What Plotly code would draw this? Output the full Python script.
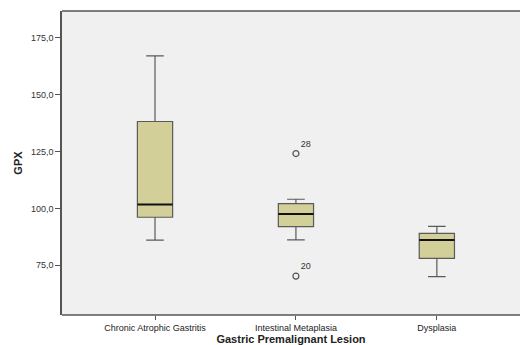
import plotly.graph_objects as go

# Box-plot summary statistics of GPX per lesion group
categories = ["Chronic Atrophic Gastritis", "Intestinal Metaplasia", "Dysplasia"]
lower_whisker = [86.0, 86.1, 70.0]
q1_values = [96.1, 92.0, 78.0]
medians = [101.7, 97.5, 86.1]
q3_values = [138.2, 102.1, 89.0]
upper_whisker = [167.1, 104.0, 92.1]

# Outlying cases (group index, value, case label)
outlier_group = [1, 1]
outlier_values = [124.1, 70.2]
outlier_labels = ["28", "20"]

y_ticks = [75, 100, 125, 150, 175]
y_tick_text = ["75,0", "100,0", "125,0", "150,0", "175,0"]

positions = list(range(len(categories)))
box_width = 0.25
fill = "#d3cf98"
edge = "#5a5a5a"
frame = "#555555"

fig = go.Figure()

fig.add_trace(go.Box(
    x=positions,
    q1=q1_values,
    median=medians,
    q3=q3_values,
    lowerfence=lower_whisker,
    upperfence=upper_whisker,
    width=box_width,
    whiskerwidth=0.5,
    fillcolor=fill,
    line=dict(color=edge, width=1.2),
    boxpoints=False,
    hoverinfo="skip",
    showlegend=False,
))

# Heavier median bars
for pos, med in zip(positions, medians):
    fig.add_trace(go.Scatter(
        x=[pos - box_width / 2, pos + box_width / 2],
        y=[med, med],
        mode="lines",
        line=dict(color="#111111", width=2),
        hoverinfo="skip",
        showlegend=False,
    ))

# Outliers with case numbers
fig.add_trace(go.Scatter(
    x=outlier_group,
    y=outlier_values,
    mode="markers+text",
    marker=dict(symbol="circle-open", size=6, color="#555555", line=dict(width=1.2)),
    text=outlier_labels,
    textposition="top right",
    textfont=dict(family="Arial, Liberation Sans, sans-serif", size=9, color="#333333"),
    hoverinfo="skip",
    showlegend=False,
))

# Frame: top and bottom edges run off the right side of the page
for y in (0, 1):
    fig.add_shape(
        type="line", xref="paper", yref="paper",
        x0=0, x1=1.05, y0=y, y1=y,
        line=dict(color=frame, width=1.5),
    )

fig.update_layout(
    width=520,
    height=345,
    margin=dict(l=62, r=0, t=11, b=30),
    paper_bgcolor="white",
    plot_bgcolor="#f0f0f0",
    font=dict(family="Arial, Liberation Sans, sans-serif", color="#333333"),
    xaxis=dict(
        range=[-0.66, 2.59],
        tickmode="array",
        tickvals=positions,
        ticktext=categories,
        tickfont=dict(size=9, color="#222222"),
        ticks="outside",
        ticklen=4,
        tickcolor=frame,
        showline=False,
        showgrid=False,
        zeroline=False,
        title=dict(
            text="<b>Gastric Premalignant Lesion</b>",
            font=dict(size=11, color="#222222"),
            standoff=4,
        ),
    ),
    yaxis=dict(
        range=[53.1, 186.8],
        tickmode="array",
        tickvals=y_ticks,
        ticktext=y_tick_text,
        tickfont=dict(size=9, color="#333333"),
        ticks="outside",
        ticklen=5,
        tickcolor=frame,
        showline=True,
        linecolor=frame,
        linewidth=1.5,
        mirror=False,
        showgrid=False,
        zeroline=False,
        title=dict(
            text="<b>GPX</b>",
            font=dict(size=11, color="#222222"),
            standoff=6,
        ),
    ),
)

fig.write_html("out.html")
